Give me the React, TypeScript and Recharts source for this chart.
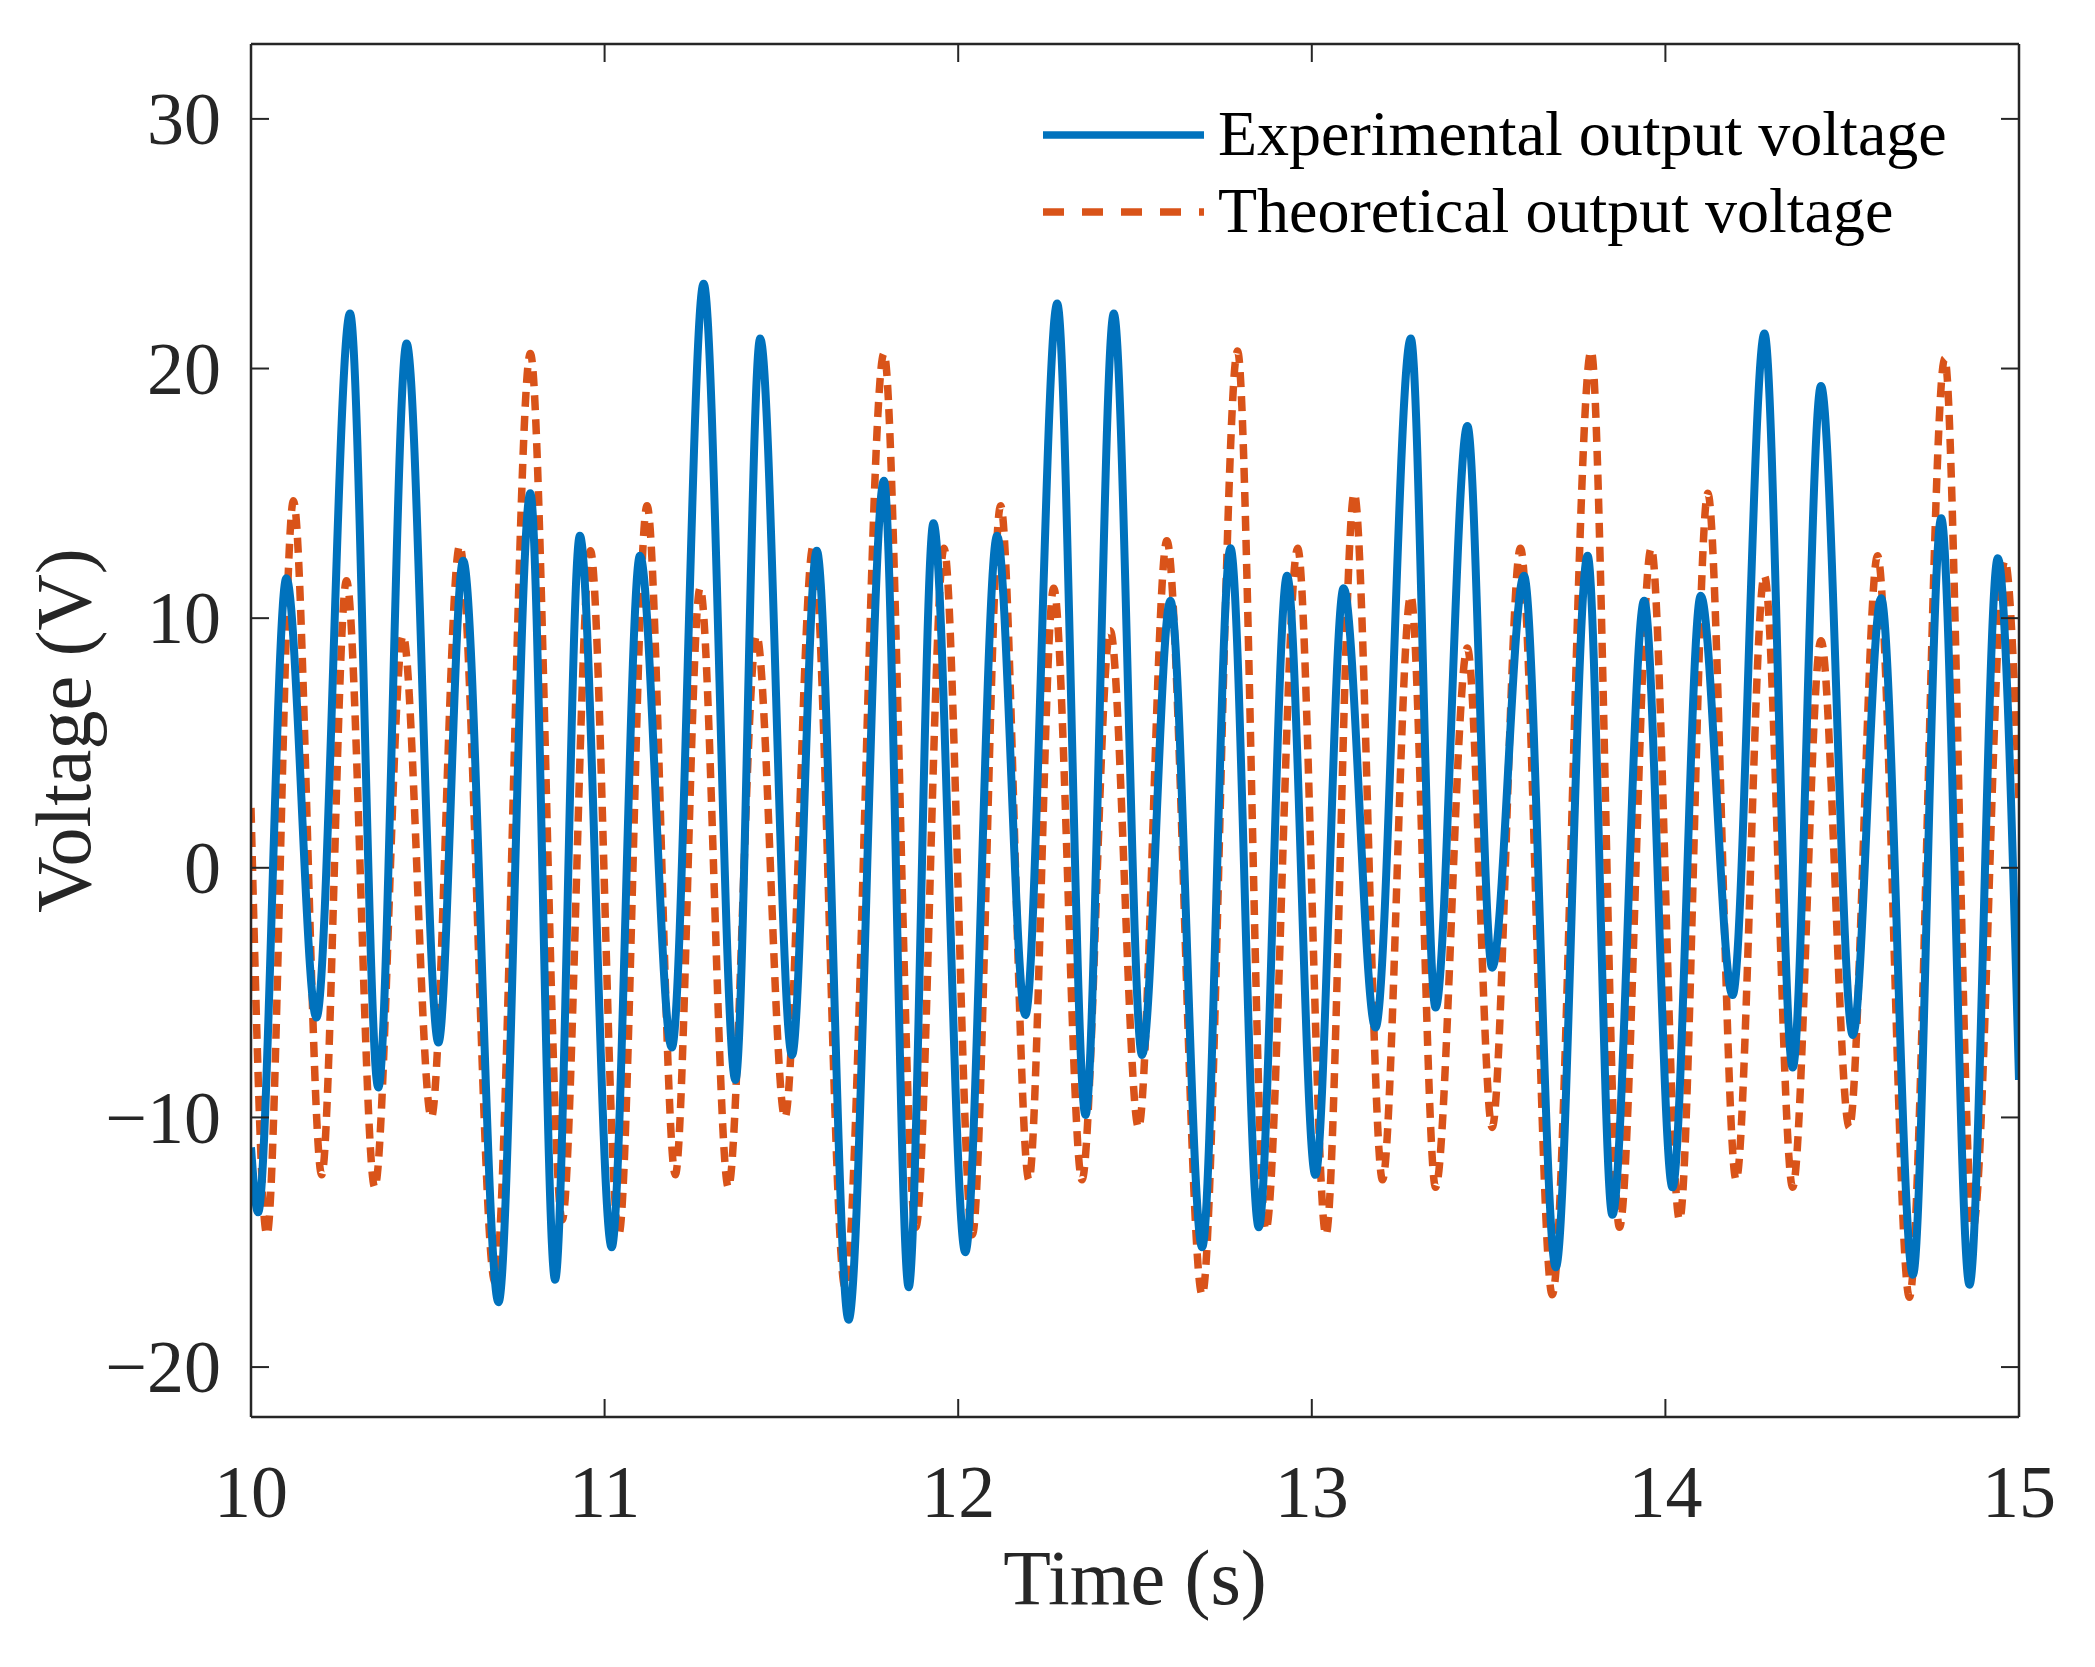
import React from 'react';
import { LineChart, Line, XAxis, YAxis } from 'recharts';

// extrema (time in s, voltage in V)
const EXP_TIME = [
  10.0, 10.02, 10.1, 10.185, 10.28, 10.36, 10.44, 10.53, 10.6, 10.7, 10.79, 10.86, 10.93,
  11.02, 11.1, 11.19, 11.28, 11.37, 11.44, 11.53, 11.6, 11.69, 11.79, 11.86, 11.93,
  12.02, 12.11, 12.19, 12.28, 12.36, 12.44, 12.52, 12.6, 12.69, 12.77, 12.85, 12.93,
  13.01, 13.09, 13.18, 13.28, 13.35, 13.44, 13.51, 13.6, 13.69, 13.78, 13.85, 13.94,
  14.02, 14.1, 14.19, 14.28, 14.36, 14.44, 14.53, 14.61, 14.7, 14.78, 14.86, 14.94, 15.0,
];
const EXP_VOLT = [
  -11.2, -13.8, 11.6, -6, 22.2, -8.8, 21, -7, 12.3, -17.4, 15, -16.5, 13.3,
  -15.2, 12.5, -7.2, 23.4, -8.5, 21.2, -7.5, 12.7, -18.1, 15.5, -16.8, 13.8,
  -15.4, 13.3, -5.9, 22.6, -9.9, 22.2, -7.5, 10.7, -15.2, 12.8, -14.4, 11.7,
  -12.3, 11.2, -6.4, 21.2, -5.6, 17.7, -4, 11.7, -16, 12.5, -13.9, 10.7,
  -12.8, 10.9, -5.1, 21.4, -8, 19.3, -6.7, 10.8, -16.3, 14, -16.7, 12.4, -8.5,
];

const THEO_TIME = [
  10.0, 10.045, 10.12, 10.2, 10.27, 10.35, 10.43, 10.51, 10.59, 10.69, 10.79, 10.88, 10.96,
  11.04, 11.12, 11.2, 11.27, 11.35, 11.43, 11.51, 11.59, 11.68, 11.79, 11.88, 11.96,
  12.04, 12.12, 12.2, 12.27, 12.35, 12.43, 12.51, 12.59, 12.69, 12.79, 12.87, 12.96,
  13.04, 13.12, 13.2, 13.28, 13.35, 13.44, 13.51, 13.59, 13.68, 13.79, 13.87, 13.96,
  14.04, 14.12, 14.2, 14.28, 14.36, 14.44, 14.52, 14.6, 14.69, 14.79, 14.87, 14.96, 15.0,
];
const THEO_VOLT = [
  2.4, -14.7, 14.7, -12.3, 11.5, -12.8, 9.3, -10, 12.9, -16.6, 20.6, -14.1, 12.7,
  -14.7, 14.5, -12.3, 11.2, -12.8, 9.3, -10, 12.9, -16.8, 20.6, -14.4, 12.8,
  -14.7, 14.5, -12.5, 11.2, -12.5, 9.5, -10.4, 13.1, -17.1, 20.7, -14.5, 12.8,
  -14.7, 15, -12.5, 10.9, -12.8, 8.8, -10.4, 12.8, -17.1, 20.7, -14.4, 12.8,
  -14.1, 15, -12.5, 11.7, -12.8, 9.1, -10.4, 12.5, -17.2, 20.4, -14.4, 12.3, 2.7,
];

const X_TICKS = [10, 11, 12, 13, 14, 15];
const Y_TICKS = [-20, -10, 0, 10, 20, 30];
const SERIES = [
  { name: 'Experimental output voltage', color: '#0072BD', dash: undefined, legendDash: undefined },
  { name: 'Theoretical output voltage', color: '#D95319', dash: '15 9', legendDash: '21 18' },
];

const expData = EXP_TIME.map((t, i) => ({ t, v: EXP_VOLT[i] }));
const theoData = THEO_TIME.map((t, i) => ({ t, v: THEO_VOLT[i] }));

const AXIS = '#262626';
const FONT = '"Liberation Serif", "Times New Roman", serif';
const TICK_LEN = 18;

function BottomTick({ x, y, payload }: any) {
  return (
    <g>
      <line x1={x} y1={y} x2={x} y2={y - TICK_LEN} stroke={AXIS} strokeWidth={2} />
      <text x={x} y={y + 100} textAnchor="middle" fontFamily={FONT} fontSize={74} fill={AXIS}>
        {payload.value}
      </text>
    </g>
  );
}

function LeftTick({ x, y, payload }: any) {
  const label = payload.value < 0 ? `\u2212${Math.abs(payload.value)}` : `${payload.value}`;
  return (
    <g>
      <line x1={x} y1={y} x2={x + TICK_LEN} y2={y} stroke={AXIS} strokeWidth={2} />
      <text x={x - 30} y={y} dy="0.34em" textAnchor="end" fontFamily={FONT} fontSize={74} fill={AXIS}>
        {label}
      </text>
    </g>
  );
}

function TopTick({ x, y }: any) {
  return <line x1={x} y1={y} x2={x} y2={y + TICK_LEN} stroke={AXIS} strokeWidth={2} />;
}

function RightTick({ x, y }: any) {
  return <line x1={x} y1={y} x2={x - TICK_LEN} y2={y} stroke={AXIS} strokeWidth={2} />;
}

function LegendOverlay() {
  return (
    <svg width={960} height={200} style={{ position: 'absolute', left: 1032, top: 80 }}>
      {SERIES.map((s, i) => {
        const cy = 55 + i * 77;
        return (
          <g key={s.name}>
            <line x1={11} y1={cy} x2={172} y2={cy} stroke={s.color} strokeWidth={7.5} strokeDasharray={s.legendDash} />
            <text x={186} y={cy} dy="0.32em" fontFamily={FONT} fontSize={64} fill="#000">
              {s.name}
            </text>
          </g>
        );
      })}
    </svg>
  );
}

export default function App() {
  return (
    <div style={{ position: 'absolute', left: 0, top: 0, width: 2095, height: 1667, background: '#fff' }}>
      <LineChart
        width={2095}
        height={1667}
        margin={{ top: 43, right: 75, bottom: 249, left: 250 }}
      >
        <XAxis
          xAxisId="b" dataKey="t" type="number" domain={[10, 15]} ticks={X_TICKS}
          allowDataOverflow height={1} tickSize={0} tickMargin={0} tickLine={false}
          axisLine={{ stroke: AXIS, strokeWidth: 2.5 }} tick={<BottomTick />}
          label={(props: any) => {
            const vb = props.viewBox;
            return (
              <text x={vb.x + vb.width / 2} y={vb.y + 187} textAnchor="middle" fontFamily={FONT} fontSize={78} fill={AXIS}>
                Time (s)
              </text>
            );
          }}
        />
        <XAxis
          xAxisId="top" orientation="top" dataKey="t" type="number" domain={[10, 15]} ticks={X_TICKS}
          allowDataOverflow height={1} tickSize={0} tickMargin={0} tickLine={false}
          axisLine={{ stroke: AXIS, strokeWidth: 2.5 }} tick={<TopTick />}
        />
        <YAxis
          yAxisId="l" dataKey="v" type="number" domain={[-22, 33]} ticks={Y_TICKS}
          allowDataOverflow width={1} tickSize={0} tickMargin={0} tickLine={false}
          axisLine={{ stroke: AXIS, strokeWidth: 2.5 }} tick={<LeftTick />}
          label={(props: any) => {
            const vb = props.viewBox;
            const cy = vb.y + vb.height / 2;
            return (
              <text
                x={67} y={cy} dy="0.3em" textAnchor="middle" fontFamily={FONT} fontSize={78} fill={AXIS}
                transform={`rotate(-90, 67, ${cy})`}
              >
                Voltage (V)
              </text>
            );
          }}
        />
        <YAxis
          yAxisId="r" orientation="right" dataKey="v" type="number" domain={[-22, 33]} ticks={Y_TICKS}
          allowDataOverflow width={1} tickSize={0} tickMargin={0} tickLine={false}
          axisLine={{ stroke: AXIS, strokeWidth: 2.5 }} tick={<RightTick />}
        />
        <Line
          xAxisId="b" yAxisId="l" data={theoData} dataKey="v" name={SERIES[1].name}
          type="monotone" stroke={SERIES[1].color} strokeWidth={7.5} strokeDasharray={SERIES[1].dash}
          dot={false} activeDot={false} isAnimationActive={false}
        />
        <Line
          xAxisId="b" yAxisId="l" data={expData} dataKey="v" name={SERIES[0].name}
          type="monotone" stroke={SERIES[0].color} strokeWidth={8}
          dot={false} activeDot={false} isAnimationActive={false}
        />
      </LineChart>
      <LegendOverlay />
    </div>
  );
}
